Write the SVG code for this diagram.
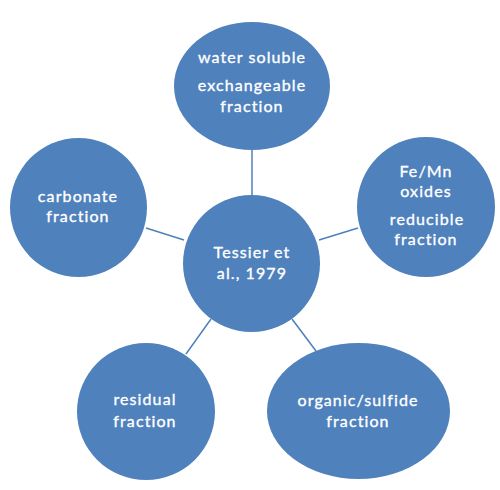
<svg xmlns="http://www.w3.org/2000/svg" width="500" height="490" viewBox="0 0 500 490">
<style>
.n{fill:#4F81BD}
.t{fill:#fff;stroke:#fff;stroke-width:0.35;font-family:Lato,"Liberation Sans",sans-serif;font-size:16px;letter-spacing:1.1px;text-anchor:middle}
.c{stroke:#4F81BD;stroke-width:1.5;fill:none}
</style>
<rect width="500" height="490" fill="#fff"/>
<g id="connectors">
<line class="c" x1="252" y1="150" x2="252" y2="196"/>
<line class="c" x1="146" y1="228" x2="184" y2="240"/>
<line class="c" x1="319" y1="240" x2="358" y2="228"/>
<line class="c" x1="186" y1="354" x2="211" y2="319"/>
<line class="c" x1="292" y1="319" x2="316" y2="351"/>
</g>
<g id="center">
<ellipse class="n" cx="251.5" cy="263.5" rx="68.5" ry="68.5"/>
<text class="t" x="252" y="258">Tessier et</text>
<text class="t" x="252" y="279">al., 1979</text>
</g>
<g id="water">
<ellipse class="n" cx="252" cy="86" rx="78" ry="64"/>
<text class="t" x="252" y="63">water soluble</text>
<text class="t" x="252" y="91">exchangeable</text>
<text class="t" x="252" y="112">fraction</text>
</g>
<g id="carbonate">
<ellipse class="n" cx="78.5" cy="207.5" rx="68.5" ry="69.5"/>
<text class="t" x="78" y="202">carbonate</text>
<text class="t" x="78" y="222">fraction</text>
</g>
<g id="femn">
<ellipse class="n" cx="426" cy="207" rx="69" ry="70"/>
<text class="t" x="426" y="177">Fe/Mn</text>
<text class="t" x="426" y="197">oxides</text>
<text class="t" x="427" y="225">reducible</text>
<text class="t" x="426" y="245">fraction</text>
</g>
<g id="residual">
<ellipse class="n" cx="146" cy="411.5" rx="69" ry="68.5"/>
<text class="t" x="145" y="405">residual</text>
<text class="t" x="145" y="427">fraction</text>
</g>
<g id="organic">
<ellipse class="n" cx="358.5" cy="411" rx="91.5" ry="68"/>
<text class="t" x="358" y="406">organic/sulfide</text>
<text class="t" x="358" y="427">fraction</text>
</g>
</svg>
